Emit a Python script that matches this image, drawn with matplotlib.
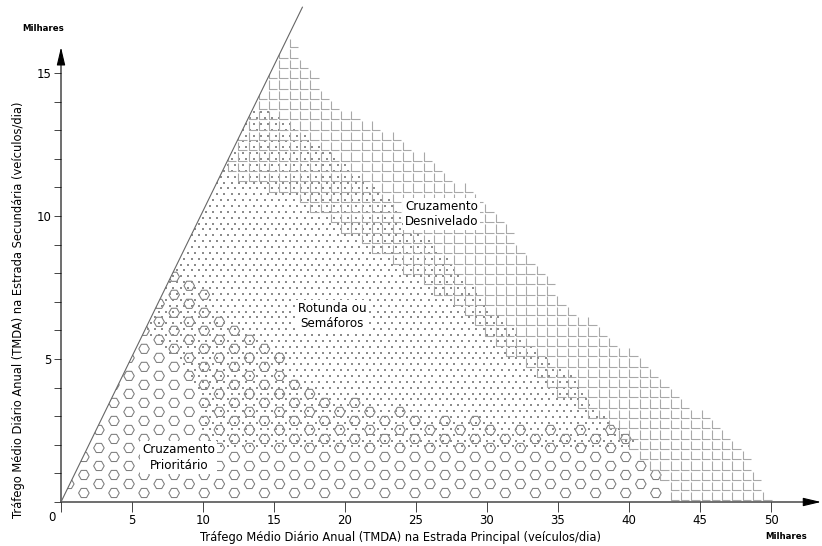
import matplotlib
matplotlib.use('Agg')
import matplotlib.pyplot as plt
import numpy as np
from matplotlib.path import Path
from matplotlib.patches import Polygon

# milhares de veículos/dia: x = estrada principal, y = estrada secundária
x_ticks = [0, 5, 10, 15, 20, 25, 30, 35, 40, 45, 50]
y_ticks = [0, 5, 10, 15]
y_minor_ticks = list(range(0, 16))

diagonal_x = [0.0, 17.0]
diagonal_y = [0.0, 17.3]

# limite exterior (Cruzamento Desnivelado)
outer_x = [0.0, 15.9, 16.5, 18.2, 20.6, 24.8, 28.6, 31.8, 35.8, 40.3, 43.1, 47.6, 49.4, 49.9]
outer_y = [0.0, 16.2, 16.2, 14.7, 13.6, 12.5, 11.1, 9.5, 7.0, 5.3, 3.9, 2.3, 0.8, 0.0]

# limite inferior da zona Cruzamento Desnivelado
grid_low_x = [0.0, 11.5, 16.8, 21.0, 23.9, 27.4, 31.1, 36.5, 39.4, 41.7, 43.5]
grid_low_y = [11.6, 11.6, 10.6, 9.2, 8.2, 7.1, 5.4, 3.3, 2.3, 1.2, 0.0]

# zona Rotunda ou Semáforos (limite superior e inferior)
dots_up_x = [0.0, 13.6, 15.2, 18.2, 21.0, 23.4, 27.2, 30.2, 33.5, 36.5, 38.5, 40.3]
dots_up_y = [13.8, 13.8, 13.6, 12.5, 11.4, 10.45, 8.5, 6.8, 5.3, 4.2, 2.8, 2.3]
dots_low_x = [0.0, 6.0, 8.0, 9.8, 10.0, 40.5]
dots_low_y = [6.0, 6.0, 5.0, 3.8, 1.9, 1.9]

# limite superior da zona Cruzamento Prioritário
hex_up_x = [0.0, 8.4, 10.5, 12.8, 15.2, 17.0, 19.4, 23.7, 26.9, 33.5, 39.4, 40.5, 42.2, 44.2]
hex_up_y = [8.4, 8.4, 7.0, 5.9, 5.2, 4.0, 3.8, 3.2, 3.0, 2.6, 2.6, 1.7, 0.9, 0.0]

region_labels = ['Cruzamento\nPrioritário', 'Rotunda ou\nSemáforos', 'Cruzamento\nDesnivelado']
region_label_x = [8.3, 19.1, 26.8]
region_label_y = [1.55, 6.5, 10.07]

x_label = 'Tráfego Médio Diário Anual (TMDA) na Estrada Principal (veículos/dia)'
y_label = 'Tráfego Médio Diário Anual (TMDA) na Estrada Secundária (veículos/dia)'
unit_label = 'Milhares'

LINE = '#444444'
FONT = 'DejaVu Sans'


def lattice(dx, dy, x0=0.0, y0=0.0, stagger=True):
    pts = []
    for i, x in enumerate(np.arange(x0, 55, dx)):
        off = dy / 2 if (stagger and i % 2) else 0.0
        ys = np.arange(y0 + off, 18, dy)
        pts.append(np.column_stack([np.full(len(ys), x), ys]))
    return np.vstack(pts)


def pattern_fill(ax, region, pts, clip, **kw):
    keep = Path(region).contains_points(pts)
    coll = ax.scatter(pts[keep, 0], pts[keep, 1], **kw)
    coll.set_clip_path(clip)
    return coll


def run():
    fig = plt.figure(figsize=(8.22, 5.46), dpi=100)
    ax = fig.add_axes([61 / 822, 44 / 546, 760 / 822, 498 / 546])
    ax.set_xlim(0, 760 / 14.2)
    ax.set_ylim(0, 498 / 28.6)
    for s in ax.spines.values():
        s.set_visible(False)

    clip = Polygon([(0, 0), (diagonal_x[1], diagonal_y[1]), (60, diagonal_y[1]), (60, 0)],
                   closed=True, transform=ax.transData)
    outer = np.column_stack([outer_x, outer_y])

    # Cruzamento Prioritário - hexágonos
    hex_region = np.vstack([np.column_stack([hex_up_x, hex_up_y]), [[44.2, 0.0], [0.0, 0.0]]])
    pattern_fill(ax, hex_region, lattice(1.06, 0.63, 0.55, 0.0), clip,
                 marker='H', s=7.6 ** 2, facecolors='none', edgecolors='#7c7c7c',
                 linewidths=0.75, zorder=1)

    # Rotunda ou Semáforos - pontos
    dots_region = np.vstack([np.column_stack([dots_up_x, dots_up_y]),
                             np.column_stack([dots_low_x, dots_low_y])[::-1]])
    pts = lattice(0.257, 0.41, 0.2, 0.1)
    keep = Path(outer).contains_points(pts)
    pattern_fill(ax, dots_region, pts[keep], clip,
                 marker='s', s=1.5, color='#8c8c8c', linewidths=0, zorder=2)

    # Cruzamento Desnivelado - quadrícula
    grid_region = np.vstack([np.column_stack([grid_low_x, grid_low_y]),
                             [[55, 0.0], [55, 18], [0, 18]]])
    pts = lattice(0.725, 0.36, 0.45, 0.2, stagger=False)
    keep = Path(outer).contains_points(pts)
    l_mark = Path([(-0.5, 0.5), (-0.5, -0.5), (0.5, -0.5)],
                  [Path.MOVETO, Path.LINETO, Path.LINETO])
    pattern_fill(ax, grid_region, pts[keep], clip,
                 marker=l_mark, s=6.0 ** 2, facecolors='none', edgecolors='#a8a8a8',
                 linewidths=0.8, zorder=3)

    ax.plot(diagonal_x, diagonal_y, color='#666666', lw=0.8, zorder=4, clip_on=False)

    # eixos com setas
    arrow = dict(arrowstyle='-|>,head_length=0.55,head_width=0.13', color='black',
                 lw=0.8, shrinkA=0, shrinkB=0, mutation_scale=20)
    ax.annotate('', xy=(0, 15.9), xytext=(0, 0), arrowprops=arrow, annotation_clip=False)
    ax.annotate('', xy=(760 / 14.2, 0), xytext=(0, 0), arrowprops=arrow, annotation_clip=False)

    ax.set_xticks(x_ticks)
    ax.set_xticklabels([''] + [str(v) for v in x_ticks[1:]], fontfamily=FONT)
    ax.set_yticks(y_ticks)
    ax.set_yticklabels([''] + [str(v) for v in y_ticks[1:]], fontfamily=FONT)
    ax.set_yticks(y_minor_ticks, minor=True)
    ax.tick_params(axis='x', direction='out', length=7, width=0.7, color=LINE,
                   labelsize=8.5, pad=2)
    ax.tick_params(axis='y', which='both', direction='out', length=5, width=0.7,
                   color=LINE, labelsize=8.5, pad=2)
    ax.annotate('0', xy=(0, 0), xytext=(-6.5, -11), textcoords='offset points',
                ha='center', va='center', fontsize=8.5, fontfamily=FONT)

    ax.set_xlabel(x_label, fontsize=8.3, fontfamily=FONT)
    ax.xaxis.set_label_coords(0.447, -0.058)
    ax.set_ylabel(y_label, fontsize=8.3, fontfamily=FONT)
    ax.yaxis.set_label_coords(-0.047, 0.386)

    ax.text(51.1, -1.22, unit_label, fontsize=6.2, fontweight='bold', fontfamily=FONT,
            ha='center', va='center', clip_on=False)
    ax.text(-1.27, 16.57, unit_label, fontsize=6.2, fontweight='bold', fontfamily=FONT,
            ha='center', va='center', clip_on=False)

    for label, x, y in zip(region_labels, region_label_x, region_label_y):
        ax.text(x, y, label, fontsize=8.6, fontfamily=FONT, ha='center', va='center',
                linespacing=1.25, zorder=5,
                bbox=dict(facecolor='white', edgecolor='none', pad=1.5))

    fig.savefig('out.png', dpi=100)


if __name__ == "__main__":
    run()
